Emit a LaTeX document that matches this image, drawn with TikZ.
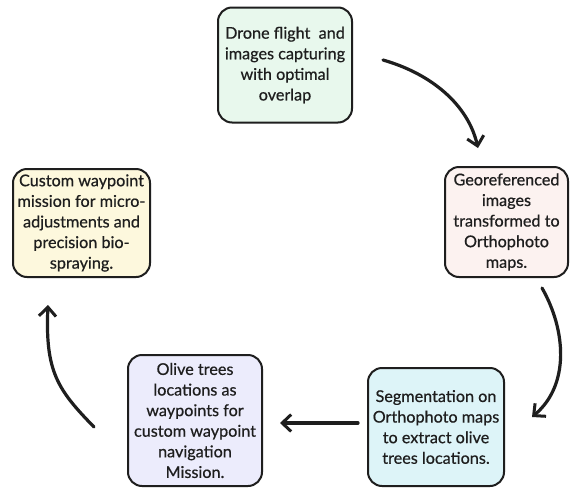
\documentclass[tikz,border=0pt]{standalone}
\usepackage{fontspec}
\setmainfont{Lato}
\newfontfamily\boxfont{Lato}[UprightFeatures={FakeBold=0.6}]
\usetikzlibrary{arrows.meta}

\definecolor{inkc}{HTML}{1E1E1E}
\definecolor{fgreen}{RGB}{232,248,237}
\definecolor{fpink}{RGB}{252,242,240}
\definecolor{fyellow}{RGB}{253,248,221}
\definecolor{fblue}{RGB}{221,244,248}
\definecolor{fpurple}{RGB}{236,236,252}

\tikzset{
  stepbox/.style={draw=inkc, line width=2pt, rounded corners=14pt,
    align=center, inner sep=0pt, text=inkc,
    font=\boxfont\fontsize{16.2}{20.6}\selectfont},
  flow/.style={draw=inkc, line width=3.2pt, line cap=round,
    -{Straight Barb[length=9pt,width=17pt,line width=3pt]}},
}

\begin{document}
\begin{tikzpicture}[x=1pt,y=-1pt]
  \useasboundingbox[fill=white] (0,0) rectangle (571,488);

  % process steps
  \node[stepbox, fill=fgreen, minimum width=134pt, minimum height=115pt]
    (flight) at (285,65)
    {Drone flight\ \ and\\images capturing\\with optimal\\overlap};
  \node[stepbox, fill=fpink, minimum width=123pt, minimum height=110pt]
    (ortho) at (506.5,222)
    {Georeferenced\\images\\transformed to\\Orthophoto\\maps.};
  \node[stepbox, fill=fblue, minimum width=136pt, minimum height=118pt]
    (segm) at (436,427)
    {Segmentation on\\Orthophoto maps\\to extract olive\\trees locations.};
  \node[stepbox, fill=fpurple, minimum width=134pt, minimum height=131pt]
    (wayp) at (195,420.5)
    {Olive trees\\locations as\\waypoints for\\custom waypoint\\navigation\\Mission.};
  \node[stepbox, fill=fyellow, minimum width=137pt, minimum height=108pt]
    (spray) at (81.5,223)
    {Custom waypoint\\mission for micro-\\adjustments and\\precision bio-\\spraying.};

  % free ends of the connectors
  \coordinate (a1s) at (383,60);   \coordinate (a1e) at (478,148);
  \coordinate (a2s) at (542,288);  \coordinate (a2e) at (532,417);
  \coordinate (a3s) at (358,423);  \coordinate (a3e) at (280,423);
  \coordinate (a4s) at (94,427);   \coordinate (a4e) at (48,305);

  % cycle connectors
  \draw[flow] (a1s) .. controls (432,74) and (468,105) .. (a1e);
  \draw[flow] (a2s) .. controls (566,330) and (570,385) .. (a2e);
  \draw[flow] (a3s) -- (a3e);
  \draw[flow] (a4s) .. controls (58,390) and (45,372) .. (a4e);
\end{tikzpicture}
\end{document}
